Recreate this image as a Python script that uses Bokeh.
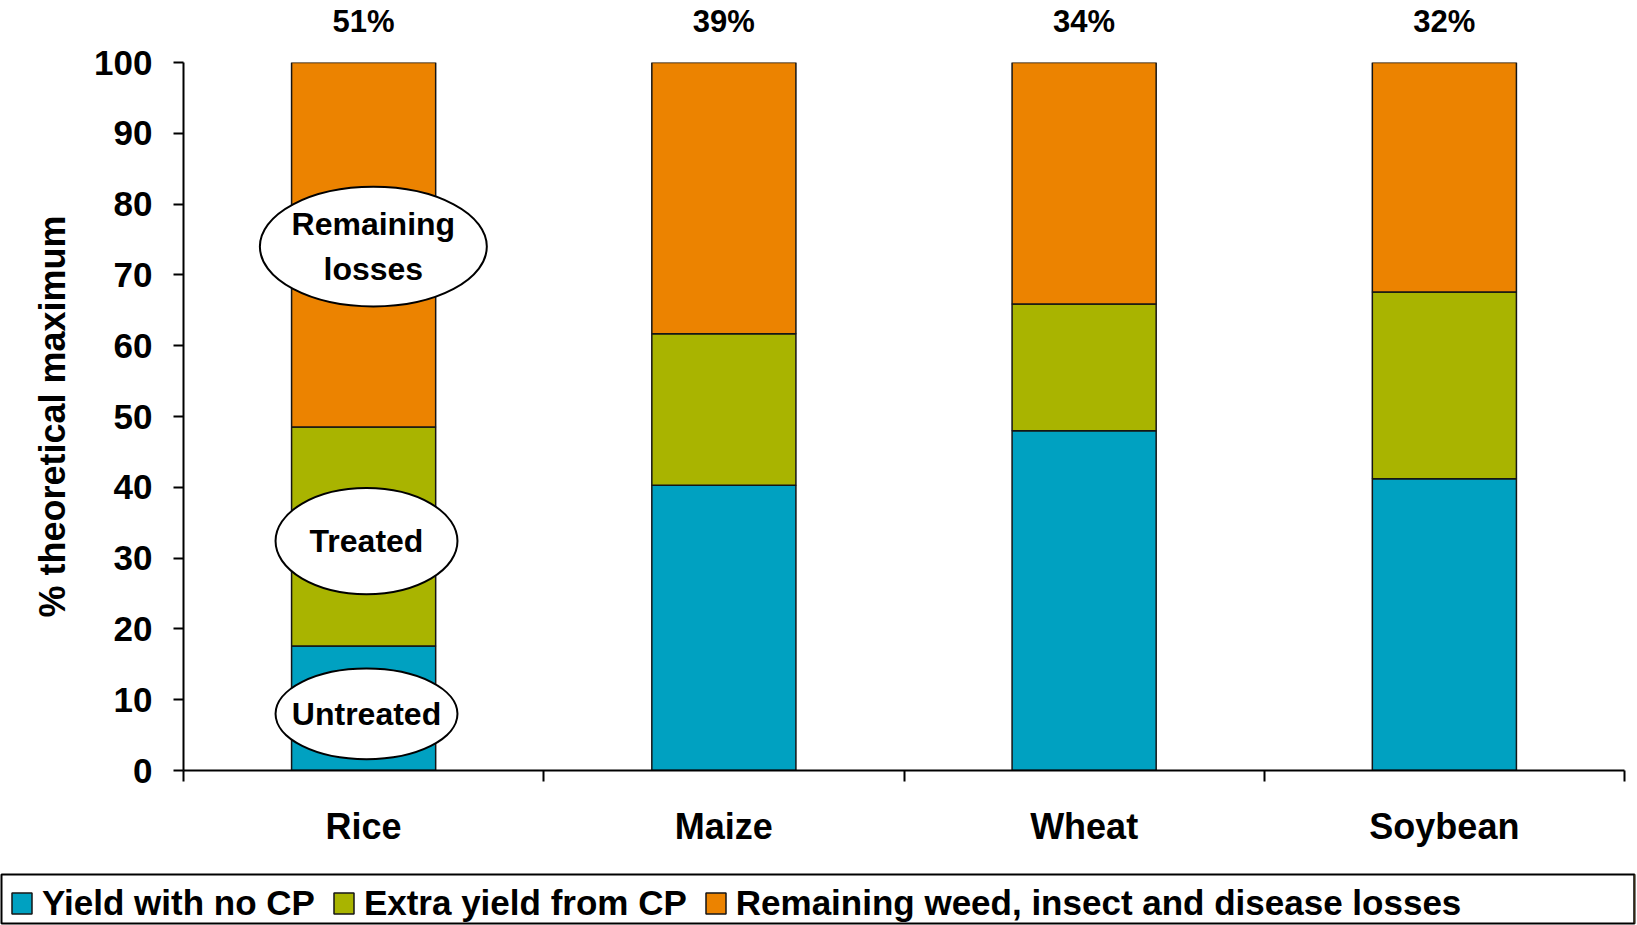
from bokeh.plotting import figure
from bokeh.models import Range1d, FixedTicker, ColumnDataSource, Legend, LegendItem, LinearAxis
from bokeh.embed import file_html
from bokeh.resources import INLINE
from bokeh.core.properties import value

# ---------------- data ----------------
crops = ["Rice", "Maize", "Wheat", "Soybean"]
yield_no_cp = [17.6, 40.3, 48.0, 41.2]
extra_yield_cp = [30.9, 21.4, 17.9, 26.4]
remaining_losses = [round(100 - a - b, 1) for a, b in zip(yield_no_cp, extra_yield_cp)]
loss_labels = ["51%", "39%", "34%", "32%"]
series_names = ["Yield with no CP", "Extra yield from CP",
                "Remaining weed, insect and disease losses"]
y_ticks = list(range(0, 101, 10))
callout_texts = ["Untreated", "Treated", "Remaining\nlosses"]

# ---------------- styling / layout ----------------
FONT = "Liberation Sans"
colors = ["#00A1C1", "#A9B400", "#EC8300"]
edge = "#151515"
W = 1637
H_MAIN = 873
H_LEG = 52

callout_x = [0.508, 0.508, 0.527]
callout_y = [8.0, 32.4, 74.0]
callout_w = [0.505, 0.505, 0.63]
callout_h = [12.8, 15.0, 16.9]

centers = [i + 0.5 for i in range(len(crops))]
bounds = [float(i) for i in range(len(crops) + 1)]

src = ColumnDataSource(dict(x=centers, no_cp=yield_no_cp, extra=extra_yield_cp,
                            rem=remaining_losses))

p = figure(width=W, height=H_MAIN, x_range=Range1d(0, 4), y_range=Range1d(0, 100),
           toolbar_location=None, output_backend="svg",
           min_border_left=183, min_border_right=13, min_border_top=61, min_border_bottom=103)
p.outline_line_color = None
p.xgrid.visible = False
p.ygrid.visible = False

p.vbar_stack(["no_cp", "extra", "rem"], x="x", width=0.4, source=src,
             fill_color=colors, line_color=edge, line_width=1.5)

# callouts on the Rice bar
p.ellipse(x=callout_x, y=callout_y, width=callout_w, height=callout_h,
          fill_color="white", line_color="black", line_width=2)
p.text(x=callout_x, y=callout_y, text=callout_texts, text_align="center",
       text_baseline="middle", text_font=value(FONT), text_font_style="bold",
       text_font_size="32px", text_color="black", text_line_height=1.25)

# x axis (category names, ticks at category boundaries)
xa = p.xaxis[0]
xa.ticker = FixedTicker(ticks=centers, minor_ticks=bounds)
xa.major_label_overrides = {c: n for c, n in zip(centers, crops)}
xa.major_tick_line_color = None
xa.major_tick_out = 0
xa.major_tick_in = 0
xa.minor_tick_out = 11
xa.minor_tick_in = 0
xa.minor_tick_line_color = "black"
xa.minor_tick_line_width = 2
xa.axis_line_color = "black"
xa.axis_line_width = 2
xa.major_label_standoff = 24
xa.major_label_text_font = FONT
xa.major_label_text_font_style = "bold"
xa.major_label_text_font_size = "36px"
xa.major_label_text_color = "black"

# top axis carrying the loss percentages
ta = LinearAxis(ticker=FixedTicker(ticks=centers),
                major_label_overrides={c: t for c, t in zip(centers, loss_labels)},
                axis_line_color=None, major_tick_line_color=None, minor_tick_line_color=None,
                major_tick_out=0, major_tick_in=0, major_label_standoff=24,
                major_label_text_font=FONT, major_label_text_font_style="bold",
                major_label_text_font_size="31px", major_label_text_color="black")
p.add_layout(ta, "above")

# y axis
ya = p.yaxis[0]
ya.ticker = FixedTicker(ticks=y_ticks)
ya.minor_tick_line_color = None
ya.major_tick_out = 10
ya.major_tick_in = 0
ya.major_tick_line_color = "black"
ya.major_tick_line_width = 2
ya.axis_line_color = "black"
ya.axis_line_width = 2
ya.major_label_standoff = 21
ya.major_label_text_font = FONT
ya.major_label_text_font_style = "bold"
ya.major_label_text_font_size = "35px"
ya.major_label_text_color = "black"
ya.axis_label = "% theoretical maximum"
ya.axis_label_text_font = FONT
ya.axis_label_text_font_style = "bold"
ya.axis_label_text_font_size = "36px"
ya.axis_label_text_color = "black"
ya.axis_label_standoff = 18

# ---------------- legend strip (full-width box) ----------------
p2 = figure(width=W, height=H_LEG, x_range=Range1d(0, 1), y_range=Range1d(0, 1),
            toolbar_location=None, output_backend="svg",
            x_axis_type=None, y_axis_type=None,
            min_border_left=1, min_border_right=3, min_border_top=1, min_border_bottom=2)
p2.outline_line_color = "black"
p2.outline_line_width = 2
items = []
for name, c in zip(series_names, colors):
    # legend-key renderers kept outside the visible range of this strip
    r = p2.vbar(x=[5], top=[1], width=0.1, fill_color=c, line_color=edge, line_width=1.5)
    items.append(LegendItem(label=name, renderers=[r]))
leg = Legend(items=items, orientation="horizontal", location=(8, 0),
             glyph_width=25, glyph_height=26, label_standoff=8, spacing=16,
             padding=0, margin=0, border_line_color=None, background_fill_alpha=0,
             label_text_font=FONT, label_text_font_style="bold",
             label_text_font_size="35px", label_text_color="black")
p2.add_layout(leg)

open("out.html", "w").write(file_html([p, p2], INLINE))
